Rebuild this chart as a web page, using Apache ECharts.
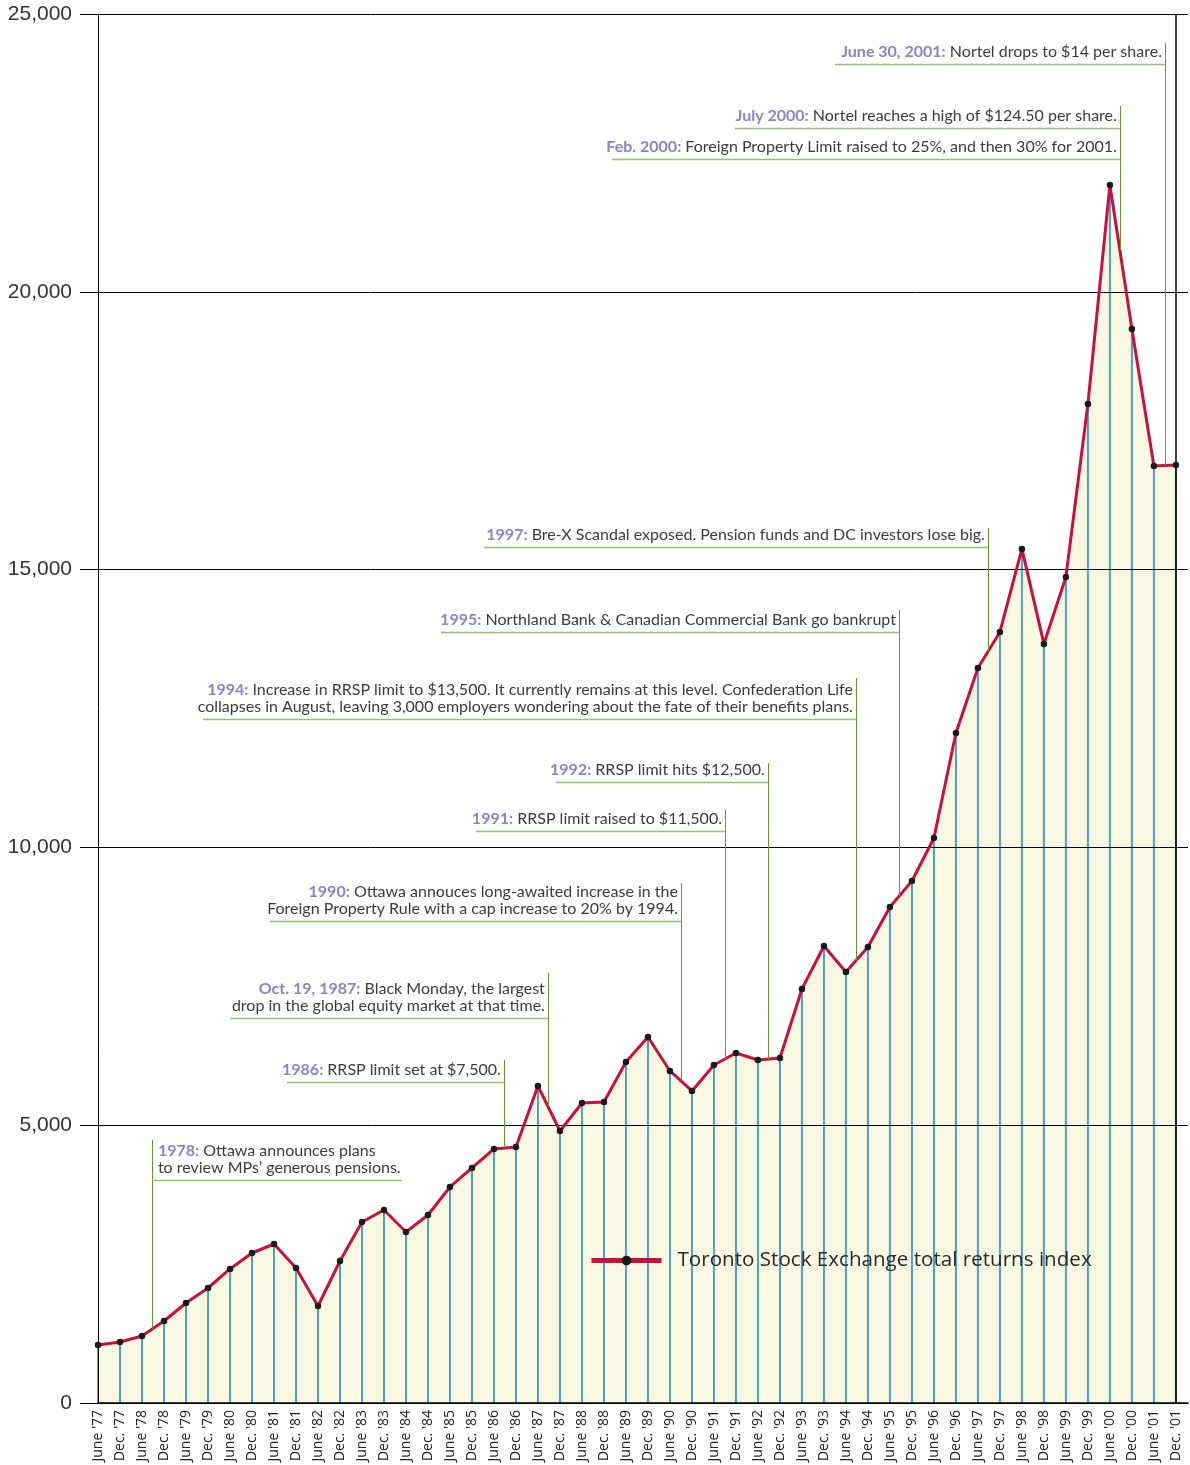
<!DOCTYPE html>
<html>
<head>
<meta charset="utf-8">
<script src="https://cdn.jsdelivr.net/npm/echarts@6/dist/echarts.min.js"></script>
<style>
html,body{margin:0;padding:0;background:#fff;}
#chart{width:1190px;height:1465px;}
</style>
</head>
<body>
<div id="chart"></div>
<script>
// ---------- data ----------
const categories = [
  "June '77","Dec. '77","June '78","Dec. '78","June '79","Dec. '79","June '80","Dec. '80",
  "June '81","Dec. '81","June '82","Dec. '82","June '83","Dec. '83","June '84","Dec. '84",
  "June '85","Dec. '85","June '86","Dec. '86","June '87","Dec. '87","June '88","Dec. '88",
  "June '89","Dec. '89","June '90","Dec. '90","June '91","Dec. '91","June '92","Dec. '92",
  "June '93","Dec. '93","June '94","Dec. '94","June '95","Dec. '95","June '96","Dec. '96",
  "June '97","Dec. '97","June '98","Dec. '98","June '99","Dec. '99","June '00","Dec. '00",
  "June '01","Dec. '01"
];
const tsxValues = [
  1044, 1098, 1206, 1476, 1800, 2070, 2412, 2700,
  2862, 2430, 1746, 2556, 3258, 3474, 3078, 3384,
  3888, 4230, 4572, 4608, 5706, 4896, 5400, 5418,
  6138, 6588, 5976, 5616, 6084, 6300, 6174, 6210,
  7452, 8226, 7758, 8208, 8928, 9396, 10170, 12060,
  13230, 13878, 15372, 13662, 14868, 17982, 21924, 19332,
  16866, 16884
];
const seriesName = 'Toronto Stock Exchange total returns index';
const yMin = 0, yMax = 25000, yInterval = 5000;

// annotations: at = date position of leader line, top/under = values, from = left end of underline
const annotations = [
  {at: 48.5,  top: 24480, under: 24102, from: 33.5,  year: 'June 30, 2001:', lines: ['Nortel drops to $14 per share.']},
  {at: 46.45, top: 23346, under: 22950, from: 28.95, year: 'July 2000:', lines: ['Nortel reaches a high of $124.50 per share.']},
  {at: 46.45, top: null,  under: 22392, from: 23.36, year: 'Feb. 2000:', lines: ['Foreign Property Limit raised to 25%, and then 30% for 2001.']},
  {at: 40.45, top: 15750, under: 15408, from: 17.55, year: '1997:', lines: ['Bre-X Scandal exposed. Pension funds and DC investors lose big.']},
  {at: 36.41, top: 14274, under: 13878, from: 15.59, year: '1995:', lines: ['Northland Bank & Canadian Commercial Bank go bankrupt']},
  {at: 34.45, top: 13050, under: 12312, from: 4.77,  year: '1994:', lines: ['Increase in RRSP limit to $13,500. It currently remains at this level. Confederation Life', 'collapses in August, leaving 3,000 employers wondering about the fate of their benefits plans.']},
  {at: 30.45, top: 11520, under: 11178, from: 20.82, year: '1992:', lines: ['RRSP limit hits $12,500.']},
  {at: 28.5,  top: 10674, under: 10296, from: 17.18, year: '1991:', lines: ['RRSP limit raised to $11,500.']},
  {at: 26.5,  top: 9360,  under: 8676,  from: 7.82,  year: '1990:', lines: ['Ottawa annouces long-awaited increase in the', 'Foreign Property Rule with a cap increase to 20% by 1994.']},
  {at: 20.45, top: 7740,  under: 6930,  from: 6.0,   year: 'Oct. 19, 1987:', lines: ['Black Monday, the largest', 'drop in the global equity market at that time.']},
  {at: 18.45, top: 6174,  under: 5778,  from: 8.59,  year: '1986:', lines: ['RRSP limit set at $7,500.']},
  {at: 2.45,  top: 4734,  under: 4014,  from: 13.82, year: '1978:', lines: ['Ottawa announces plans', 'to review MPs\u2019 generous pensions.'], leftText: true}
];

// ---------- chart ----------
const pairs = tsxValues.map((v, i) => [i, v]);
const chart = echarts.init(document.getElementById('chart'), null, {renderer: 'canvas'});
const TXT = 'Lato, "Open Sans", sans-serif';

chart.setOption({
  animation: false,
  backgroundColor: '#ffffff',
  grid: {left: 98, right: 2, top: 14, bottom: 62, containLabel: false},
  legend: {
    data: [seriesName],
    left: 584, top: 1245,
    itemWidth: 70, itemHeight: 12,
    lineStyle: {width: 5},
    textStyle: {fontFamily: '"Open Sans", sans-serif', fontSize: 20.6, color: '#2a2a2a', padding: [0, 0, 0, 11]}
  },
  xAxis: {
    type: 'value', min: 0, max: categories.length - 0.45, interval: 1,
    z: 4,
    axisLine: {show: true, lineStyle: {color: '#000', width: 1.5}},
    axisTick: {show: false},
    splitLine: {show: false},
    axisLabel: {
      rotate: 90, margin: 7, fontSize: 14, color: '#222',
      fontFamily: '"Open Sans", sans-serif',
      showMaxLabel: false,
      formatter: v => (Number.isInteger(v) && categories[v]) ? categories[v] : ''
    }
  },
  yAxis: {
    type: 'value', min: yMin, max: yMax, interval: yInterval,
    z: 4,
    axisLine: {show: true, lineStyle: {color: '#000', width: 1}},
    axisTick: {show: true, length: 18, lineStyle: {color: '#000', width: 1}},
    splitLine: {show: true, lineStyle: {color: '#000', width: 1}},
    axisLabel: {
      margin: 26, fontSize: 21, color: '#333', fontFamily: '"Liberation Sans", Arial, sans-serif',
      formatter: v => v.toLocaleString('en-US')
    }
  },
  series: [
    {
      type: 'line', data: pairs, symbol: 'none', silent: true, z: 1,
      lineStyle: {width: 0}, areaStyle: {color: '#f9f8e1', opacity: 1}
    },
    {
      type: 'bar', data: pairs, barWidth: 2, z: 3, silent: true,
      itemStyle: {color: '#4b9fd3'},
      markLine: {
        silent: true, symbol: 'none', label: {show: false},
        lineStyle: {color: '#000', width: 1.5, type: 'solid'},
        data: [{xAxis: categories.length - 1}]
      }
    },
    {
      name: seriesName, type: 'line', data: pairs, z: 5,
      symbol: 'circle', symbolSize: 6.5,
      lineStyle: {color: '#c8103e', width: 3},
      itemStyle: {color: '#1a1a1a'}
    }
  ]
});

// ---------- annotations ----------
function curveAt(x) {
  const i = Math.min(Math.floor(x), tsxValues.length - 2);
  const t = x - i;
  return tsxValues[i] * (1 - t) + tsxValues[i + 1] * t;
}
const px = (x, y) => chart.convertToPixel({gridIndex: 0}, [x, y]);
const graphics = [];
annotations.forEach(a => {
  const lineX = px(a.at, 0)[0];
  const underY = px(0, a.under)[1];
  const fromX = px(a.from, 0)[0];
  const bottomY = px(a.at, curveAt(a.at))[1];
  if (a.top !== null) {
    const topY = px(0, a.top)[1];
    graphics.push({type: 'line', z: 6, silent: true,
      shape: {x1: Math.round(lineX) + 0.5, y1: topY, x2: Math.round(lineX) + 0.5, y2: bottomY},
      style: {stroke: '#63992f', lineWidth: 1}});
  }
  const ux1 = a.leftText ? lineX : fromX;
  const ux2 = a.leftText ? fromX : lineX;
  graphics.push({type: 'line', z: 6, silent: true,
    shape: {x1: ux1, y1: Math.round(underY) + 0.5, x2: ux2, y2: Math.round(underY) + 0.5},
    style: {stroke: '#95c07a', lineWidth: 1.5}});
  const text = '{y|' + a.year + '} ' + a.lines.join('\n');
  graphics.push({type: 'text', z: 7, silent: true,
    x: a.leftText ? lineX + 6 : lineX - 3,
    y: underY - 4,
    style: {
      text: text,
      align: a.leftText ? 'left' : 'right',
      verticalAlign: 'bottom',
      fill: '#3c3c3c',
      font: '16px ' + TXT,
      lineHeight: 17,
      rich: {y: {fill: '#8c84c6', fontWeight: 'bold', fontSize: 16, fontFamily: TXT, lineHeight: 17}}
    }});
});
chart.setOption({graphic: graphics});
</script>
</body>
</html>
